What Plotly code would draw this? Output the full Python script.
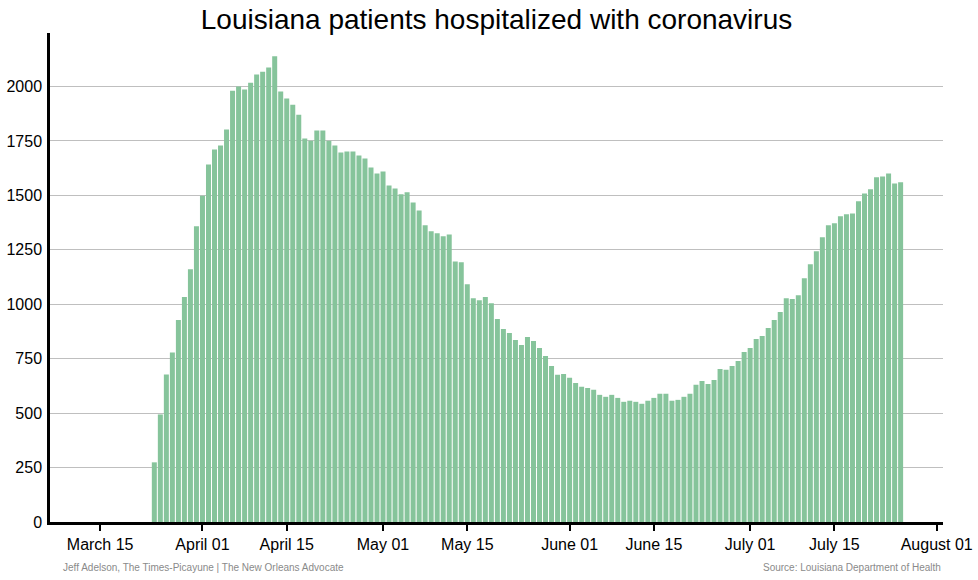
import pandas as pd
import plotly.graph_objects as go

start_date = "2020-03-24"
hospitalized = [
    274, 494, 677, 778, 928, 1033, 1161, 1358, 1499, 1642,
    1711, 1729, 1803, 1981, 2000, 1986, 2018, 2055, 2068, 2087,
    2139, 1977, 1945, 1917, 1871, 1761, 1751, 1798, 1798, 1751,
    1729, 1697, 1702, 1702, 1683, 1670, 1628, 1601, 1610, 1546,
    1532, 1505, 1514, 1468, 1431, 1363, 1335, 1326, 1312, 1321,
    1197, 1193, 1092, 1028, 1019, 1033, 1005, 932, 886, 868,
    836, 813, 850, 831, 799, 763, 717, 676, 680, 662,
    639, 621, 616, 607, 584, 575, 584, 570, 552, 557,
    552, 543, 557, 570, 589, 589, 557, 561, 575, 589,
    630, 648, 634, 652, 703, 699, 717, 740, 781, 799,
    840, 854, 891, 928, 964, 1028, 1024, 1042, 1120, 1184,
    1244, 1308, 1363, 1372, 1404, 1413, 1417, 1473, 1509, 1528,
    1583, 1587, 1601, 1555, 1560,
]
dates = pd.date_range(start_date, periods=len(hospitalized), freq="D")

x_tick_dates = ["2020-03-15", "2020-04-01", "2020-04-15", "2020-05-01", "2020-05-15",
                "2020-06-01", "2020-06-15", "2020-07-01", "2020-07-15", "2020-08-01"]
x_tick_labels = ["March 15", "April 01", "April 15", "May 01", "May 15",
                 "June 01", "June 15", "July 01", "July 15", "August 01"]
y_ticks = [0, 250, 500, 750, 1000, 1250, 1500, 1750, 2000]

title_text = "Louisiana patients hospitalized with coronavirus"
credit_text = "Jeff Adelson, The Times-Picayune | The New Orleans Advocate"
source_text = "Source: Louisiana Department of Health"

FONT = "Liberation Sans, Arial, sans-serif"

fig = go.Figure(go.Bar(
    x=dates, y=hospitalized,
    marker=dict(color="#86c49b", line=dict(width=0)),
    hovertemplate="%{x|%B %d}: %{y}<extra></extra>",
))

fig.update_layout(
    width=978, height=580,
    margin=dict(l=50, r=35, t=33, b=58, autoexpand=False),
    paper_bgcolor="white", plot_bgcolor="white",
    bargap=0.17,
    showlegend=False,
    font=dict(family=FONT, color="black", size=16),
    title=dict(text=title_text, x=0.5, xref="paper", xanchor="center",
               y=1 - 19 / 580, yref="container", yanchor="middle",
               font=dict(family=FONT, size=28, color="black")),
    xaxis=dict(
        type="date", automargin=False,
        range=["2020-03-06 16:00", "2020-08-02 01:00"],
        tickvals=x_tick_dates, ticktext=x_tick_labels,
        ticks="outside", ticklen=6, tickwidth=1.5, tickcolor="black",
        showline=True, linecolor="black", linewidth=2.5,
        showgrid=False, zeroline=False,
        tickfont=dict(family=FONT, size=16, color="black"),
    ),
    yaxis=dict(
        range=[0, 2246], automargin=False,
        tickvals=y_ticks,
        ticks="", showline=True, linecolor="black", linewidth=2.5,
        showgrid=True, gridcolor="#bfbfbf", gridwidth=1,
        zeroline=False,
        ticklabelstandoff=2,
        tickfont=dict(family=FONT, size=16, color="black"),
    ),
    annotations=[
        dict(text=credit_text, xref="paper", yref="paper", x=0.012, y=-0.093,
             xanchor="left", yanchor="middle", showarrow=False,
             font=dict(family=FONT, size=10, color="#8a8a8a")),
        dict(text=source_text, xref="paper", yref="paper", x=1.0, y=-0.093,
             xanchor="right", yanchor="middle", showarrow=False,
             font=dict(family=FONT, size=10, color="#8a8a8a")),
    ],
)

fig.write_html(
    "out.html",
    config={"displayModeBar": False},
    post_script="document.body.style.margin='0';document.body.style.overflow='hidden';",
)
